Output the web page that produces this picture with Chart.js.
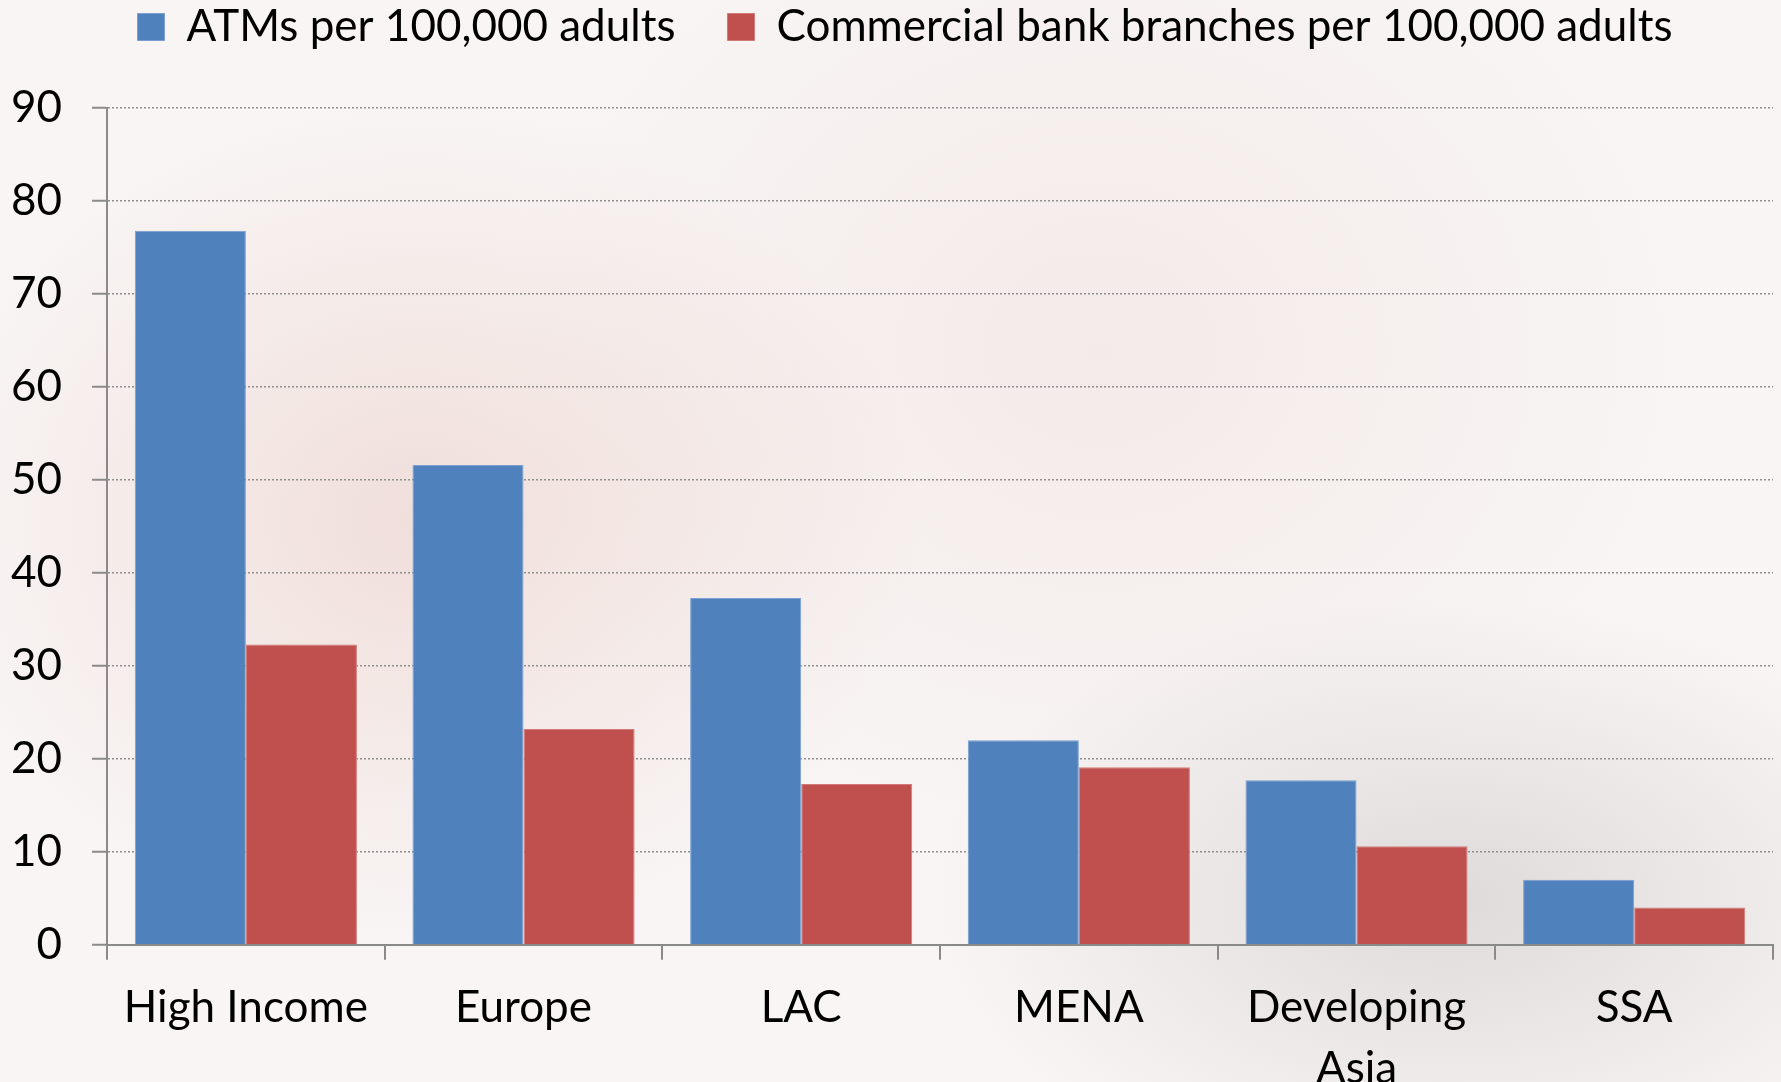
<!DOCTYPE html>
<html>
<head>
<meta charset="utf-8">
<script src="https://cdn.jsdelivr.net/npm/chart.js@4/dist/chart.umd.min.js"></script>
<style>
  html, body { margin: 0; padding: 0; overflow: hidden; }
  body {
    width: 1781px; height: 1082px;
    background:
      radial-gradient(ellipse 500px 420px at 420px 520px, rgba(226, 180, 172, 0.35), rgba(226, 180, 172, 0) 100%),
      radial-gradient(ellipse 520px 300px at 1450px 900px, rgba(190, 186, 186, 0.45), rgba(190, 186, 186, 0) 100%),
      radial-gradient(ellipse 600px 500px at 1100px 350px, rgba(235, 215, 212, 0.35), rgba(235, 215, 212, 0) 100%),
      #f8f5f4;
  }
  #wrap { width: 1781px; height: 1117px; position: relative; }
</style>
</head>
<body>
<div id="wrap"><canvas id="bankChart"></canvas></div>
<script>
const regions = ['High Income', 'Europe', 'LAC', 'MENA', ['Developing', 'Asia'], 'SSA'];
const atms = [76.8, 51.6, 37.3, 22.0, 17.7, 7.0];
const branches = [32.3, 23.2, 17.3, 19.1, 10.6, 4.0];
const yTicks = [0, 10, 20, 30, 40, 50, 60, 70, 80, 90];

const axisGrey = '#8a8a8a';

// extra room under the legend, and nudge it right a bit
const legendGap = {
    id: 'legendGap',
    beforeLayout(chart) {
        const legend = chart.legend;
        if (!legend || legend._gapWrapped) return;
        const fit = legend.fit;
        legend.fit = function () {
            fit.call(this);
            this.height += 49;
        };
        legend._gapWrapped = true;
    },
    afterLayout(chart) {
        if (!chart.legend) return;
        chart.legend.left += 28;
        chart.legend.right += 28;
    }
};

const ctx = document.getElementById('bankChart').getContext('2d');
const bankChart = new Chart(ctx, {
    type: 'bar',
    data: {
        labels: regions,
        datasets: [
            {
                label: 'ATMs per 100,000 adults',
                data: atms,
                backgroundColor: '#4f81bd',
                borderColor: '#7a9fd0',
                borderWidth: 1
            },
            {
                label: 'Commercial bank branches per 100,000 adults',
                data: branches,
                backgroundColor: '#c0504d',
                borderColor: '#d27a77',
                borderWidth: 1
            }
        ]
    },
    plugins: [legendGap],
    options: {
        responsive: true,
        maintainAspectRatio: false,
        animation: false,
        layout: {
            padding: { top: -47, left: -19, right: 8, bottom: 0 }
        },
        datasets: {
            bar: {
                categoryPercentage: 0.8,
                barPercentage: 1.0
            }
        },
        scales: {
            y: {
                min: 0,
                max: 90,
                afterBuildTicks: (scale) => {
                    scale.ticks = yTicks.map(v => ({ value: v }));
                },
                ticks: {
                    color: '#000',
                    font: { family: 'Lato', size: 44 },
                    padding: 30
                },
                grid: {
                    color: '#8f8f8f',
                    lineWidth: 1.5,
                    tickLength: 15,
                    tickColor: axisGrey,
                    tickWidth: 2
                },
                border: {
                    display: true,
                    color: axisGrey,
                    width: 2,
                    dash: [2, 2] // dotted rows
                }
            },
            x: {
                ticks: {
                    color: '#000',
                    font: { family: 'Lato', size: 44, lineHeight: 1.4 },
                    padding: 17,
                    maxRotation: 0
                },
                grid: {
                    offset: true,
                    drawOnChartArea: false, // only the small tick marks
                    tickLength: 15,
                    color: axisGrey,
                    lineWidth: 2
                },
                border: {
                    color: axisGrey,
                    width: 2
                }
            }
        },
        plugins: {
            tooltip: { enabled: false },
            legend: {
                position: 'top',
                labels: {
                    color: '#000',
                    font: { family: 'Lato', size: 44, lineHeight: 1.0 },
                    boxWidth: 27,
                    boxHeight: 27,
                    padding: 52
                }
            }
        }
    }
});
</script>
</body>
</html>
